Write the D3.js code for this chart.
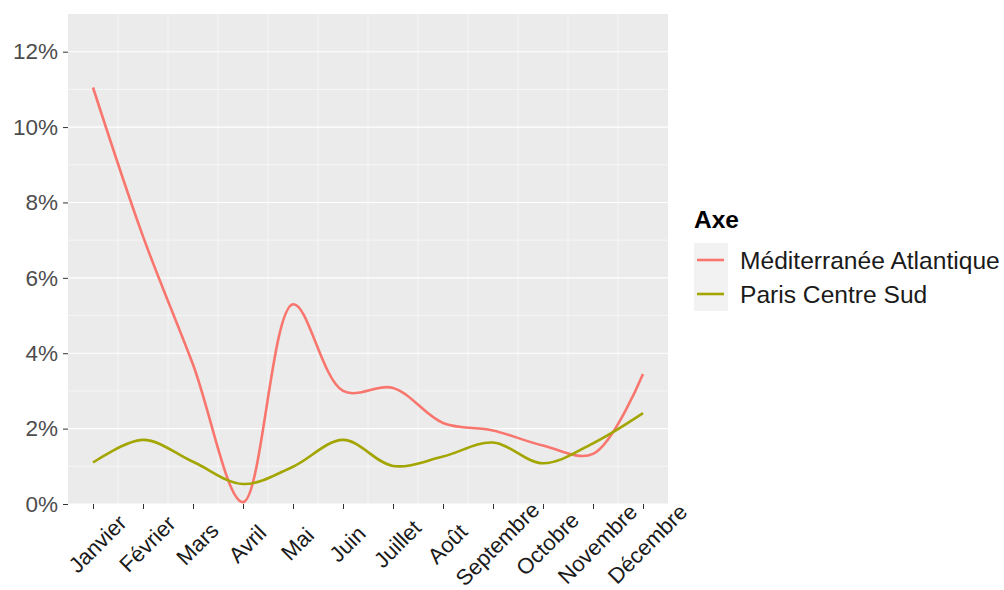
<!DOCTYPE html>
<html>
<head>
<meta charset="utf-8">
<script src="https://cdn.jsdelivr.net/npm/d3@7"></script>
<style>
  html, body { margin: 0; padding: 0; background: #fff; }
  svg { display: block; font-family: "Liberation Sans", Arial, sans-serif; }
</style>
</head>
<body>
<svg id="chart" width="1004" height="590"></svg>
<script>
const months = ["Janvier","Février","Mars","Avril","Mai","Juin","Juillet","Août","Septembre","Octobre","Novembre","Décembre"];
const seriesNames = ["Méditerranée Atlantique", "Paris Centre Sud"];
const medAtlantique = [11.05, 7.1, 3.7, 0.05, 5.3, 3.0, 3.08, 2.15, 1.95, 1.55, 1.33, 3.45];
const parisCentreSud = [1.10, 1.70, 1.12, 0.53, 0.99, 1.70, 1.01, 1.26, 1.63, 1.08, 1.61, 2.41];
const seriesColors = ["#F8766D", "#A3A500"];
const yTicks = [0, 2, 4, 6, 8, 10, 12];
const yMinor = [1, 3, 5, 7, 9, 11];

const svg = d3.select("#chart");
const panel = { left: 68, right: 668, top: 14, bottom: 504 };

const x = d3.scaleLinear().domain([0.5, 12.5]).range([panel.left, panel.right]);
const y = d3.scaleLinear().domain([0, 13]).range([panel.bottom, panel.top]);

// panel background
svg.append("rect")
  .attr("x", panel.left).attr("y", panel.top)
  .attr("width", panel.right - panel.left).attr("height", panel.bottom - panel.top)
  .attr("fill", "#EBEBEB");

// minor horizontal gridlines
svg.append("g").selectAll("line").data(yMinor).join("line")
  .attr("x1", panel.left).attr("x2", panel.right)
  .attr("y1", d => y(d)).attr("y2", d => y(d))
  .attr("stroke", "#fff").attr("stroke-width", 0.55);

// vertical gridlines between months
const vLines = d3.range(1.5, 12.5, 1);
svg.append("g").selectAll("line").data(vLines).join("line")
  .attr("y1", panel.top).attr("y2", panel.bottom)
  .attr("x1", d => x(d)).attr("x2", d => x(d))
  .attr("stroke", "#fff").attr("stroke-width", 0.55);

// major horizontal gridlines
svg.append("g").selectAll("line").data(yTicks).join("line")
  .attr("x1", panel.left).attr("x2", panel.right)
  .attr("y1", d => y(d)).attr("y2", d => y(d))
  .attr("stroke", "#fff").attr("stroke-width", 1.1);

// Y axis
const yAxis = d3.axisLeft(y).tickValues(yTicks).tickSize(5).tickPadding(5)
  .tickFormat(d => d + "%");
const gy = svg.append("g").attr("transform", `translate(${panel.left},0)`).call(yAxis);
gy.select(".domain").remove();
gy.selectAll(".tick line").attr("stroke", "#333").attr("stroke-width", 1);
gy.selectAll(".tick text").attr("fill", "#4D4D4D").attr("font-size", 22.5)
  .attr("font-family", "Liberation Sans, Arial, sans-serif");

// X axis
const xAxis = d3.axisBottom(x).tickValues(d3.range(1, 13)).tickSize(5)
  .tickFormat(d => months[d - 1]);
const gx = svg.append("g").attr("transform", `translate(0,${panel.bottom})`).call(xAxis);
gx.select(".domain").remove();
gx.selectAll(".tick line").attr("stroke", "#333").attr("stroke-width", 1);
gx.selectAll(".tick text")
  .attr("fill", "#1A1A1A").attr("font-size", 22)
  .attr("font-family", "Liberation Sans, Arial, sans-serif")
  .attr("text-anchor", "middle")
  .attr("dominant-baseline", "central")
  .attr("x", 0).attr("y", 0).attr("dy", null)
  .attr("transform", "translate(4,40) rotate(-45)");

// lines
const line = d3.line()
  .x((d, i) => x(i + 1))
  .y(d => y(d))
  .curve(d3.curveCatmullRom.alpha(0.5));

const allSeries = [medAtlantique, parisCentreSud];
svg.append("g").selectAll("path").data(allSeries).join("path")
  .attr("d", d => line(d))
  .attr("fill", "none")
  .attr("stroke", (d, i) => seriesColors[i])
  .attr("stroke-width", 2.6)
  .attr("stroke-linejoin", "round")
  .attr("stroke-linecap", "butt");

// legend
const lg = svg.append("g").attr("transform", "translate(694,0)");
lg.append("text").attr("x", 0).attr("y", 228)
  .attr("font-size", 24.5).attr("font-weight", "bold").attr("fill", "#000")
  .text("Axe");
const keyH = 34;
seriesNames.forEach((name, i) => {
  const cy = 243 + keyH * i;
  lg.append("rect").attr("x", 0).attr("y", cy).attr("width", 34).attr("height", keyH)
    .attr("fill", "#F2F2F2");
  lg.append("line").attr("x1", 3).attr("x2", 30)
    .attr("y1", cy + keyH / 2).attr("y2", cy + keyH / 2)
    .attr("stroke", seriesColors[i]).attr("stroke-width", 2.6);
  lg.append("text").attr("x", 46).attr("y", cy + keyH / 2)
    .attr("dominant-baseline", "central")
    .attr("font-size", 24.6).attr("fill", "#1A1A1A")
    .text(name);
});
</script>
</body>
</html>
